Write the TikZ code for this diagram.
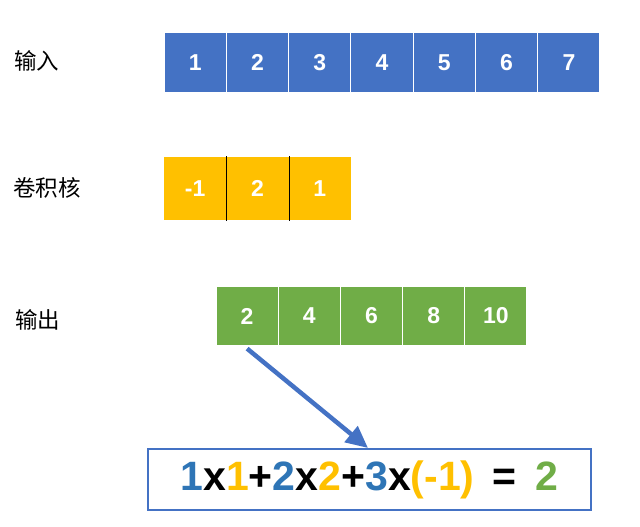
\documentclass[tikz,border=0pt]{standalone}
\usepackage{fontspec}
\setmainfont{Liberation Sans}
\newfontfamily\cjk{Noto Sans CJK SC}
\usetikzlibrary{arrows.meta}
\definecolor{cblue}{HTML}{4472C4}
\definecolor{cyel}{HTML}{FFC000}
\definecolor{cgreen}{HTML}{70AD47}
\definecolor{fblue}{HTML}{2E75B6}
\tikzset{
  cell/.style={minimum width=62.3pt, minimum height=61pt, inner sep=0pt, text=white,
     font=\fontsize{23}{26}\selectfont\bfseries, draw=white, line width=1.2pt},
  incell/.style={cell, fill=cblue},
  kcell/.style={cell, fill=cyel, draw=none, minimum height=63pt},
  ocell/.style={cell, fill=cgreen, minimum height=60pt, minimum width=62.2pt},
  lab/.style={anchor=west, inner sep=0pt, font=\cjk\fontsize{22.5}{26}\selectfont},
}
\begin{document}
\begin{tikzpicture}[x=1pt,y=-1pt]
\useasboundingbox (0,0) rectangle (640,527);
% labels
\node[lab] (l1) at (14,61) {输入};
\node[lab] (l2) at (13,188) {卷积核};
\node[lab] (l3) at (15,320) {输出};
% input
\foreach \v [count=\i] in {1,...,7}
  \node[incell] (in\i) at ({164+31.15+(\i-1)*62.29},62.5) {\v};
% kernel
\node[kcell] (k1) at (195.15,188.5) {-1};
\node[kcell] (k2) at (257.45,188.5) {2};
\node[kcell] (k3) at (319.75,188.5) {1};
\draw[black, line width=1pt] (k1.north east) -- (k1.south east);
\draw[black, line width=1pt] (k2.north east) -- (k2.south east);
% output
\foreach \v [count=\i] in {2,4,6,8,10}
  \node[ocell] (o\i) at ({216+31.1+(\i-1)*62.2},316) {\v};
% formula
\node[draw=cblue, line width=1.3pt, minimum width=443pt, minimum height=61pt, inner sep=0pt,
      font=\fontsize{41}{44}\selectfont\bfseries] (f) at (369.5,479.5)
  {\textcolor{fblue}{1}x\textcolor{cyel}{1}+\textcolor{fblue}{2}x\textcolor{cyel}{2}+\textcolor{fblue}{3}x\textcolor{cyel}{(-1)}\hspace{0.15em} =\hspace{0.2em} \textcolor{cgreen}{2}};
\coordinate (tip) at (368,448);
\draw[cblue, line width=4.5pt, -{Triangle[length=22pt,width=20pt]}] ([yshift=-2pt]o1.south) -- (tip);
\end{tikzpicture}
\end{document}
